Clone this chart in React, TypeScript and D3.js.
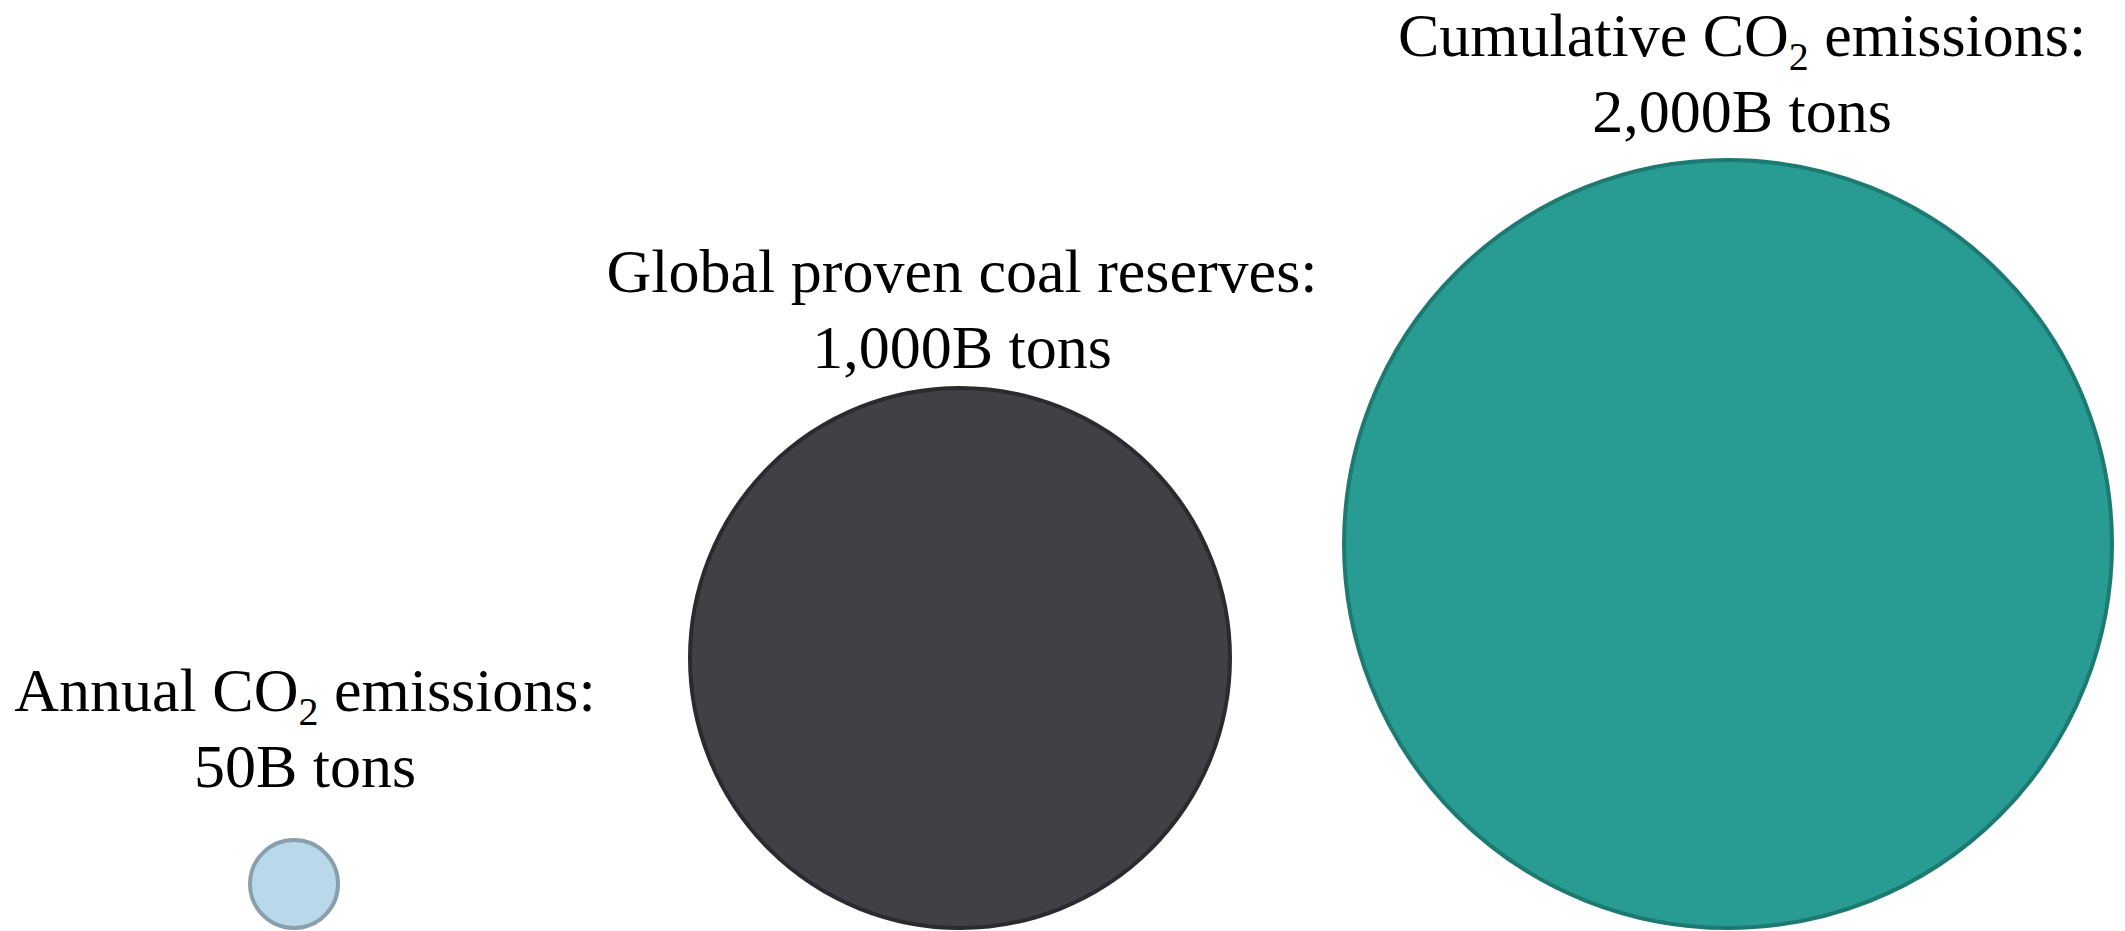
import React from "react";
import * as d3 from "d3";

const categories = ["annual", "coal", "cumulative"];
const values = [50, 1000, 2000];
const labelLine1 = [
  ["Annual CO", "2", " emissions:"],
  ["Global proven coal reserves:", "", ""],
  ["Cumulative CO", "2", " emissions:"],
];
const labelLine2 = ["50B tons", "1,000B tons", "2,000B tons"];
const fills = ["#b9d9eb", "#414045", "#289c92"];
const strokes = ["#8a9fae", "#2b2a2f", "#1d7a72"];

const W = 2125;
const H = 931;

export default function App() {
  const x = d3.scaleOrdinal<string, number>().domain(categories).range([294, 960, 1728]);
  const labelX = d3.scaleOrdinal<string, number>().domain(categories).range([305, 962, 1742]);
  const labelY = d3.scaleOrdinal<string, number>().domain(categories).range([711, 292, 56]);
  const r = d3.scaleSqrt().domain([0, 50, 1000, 2000]).range([0, 44, 270, 384]);
  const bottom = 928;
  const fontSize = 62;
  const lineGap = 76;

  return (
    <svg
      width={W}
      height={H}
      style={{ position: "absolute", left: 0, top: 0, background: "#ffffff" }}
      fontFamily="'Liberation Serif', 'Times New Roman', serif"
    >
      <rect x={0} y={0} width={W} height={H} fill="#ffffff" />
      {categories.map((c, i) => {
        const rad = r(values[i]);
        return (
          <g key={c}>
            <circle
              cx={x(c)}
              cy={bottom - rad}
              r={rad}
              fill={fills[i]}
              stroke={strokes[i]}
              strokeWidth={4}
            />
            <text
              x={labelX(c)}
              y={labelY(c)}
              textAnchor="middle"
              fontSize={fontSize}
              fill="#000000"
            >
              <tspan>{labelLine1[i][0]}</tspan>
              {labelLine1[i][1] ? (
                <>
                  <tspan fontSize={40} dy={14}>{labelLine1[i][1]}</tspan>
                  <tspan dy={-14}>{labelLine1[i][2]}</tspan>
                </>
              ) : null}
            </text>
            <text
              x={labelX(c)}
              y={labelY(c) + lineGap}
              textAnchor="middle"
              fontSize={fontSize}
              fill="#000000"
            >
              {labelLine2[i]}
            </text>
          </g>
        );
      })}
    </svg>
  );
}
